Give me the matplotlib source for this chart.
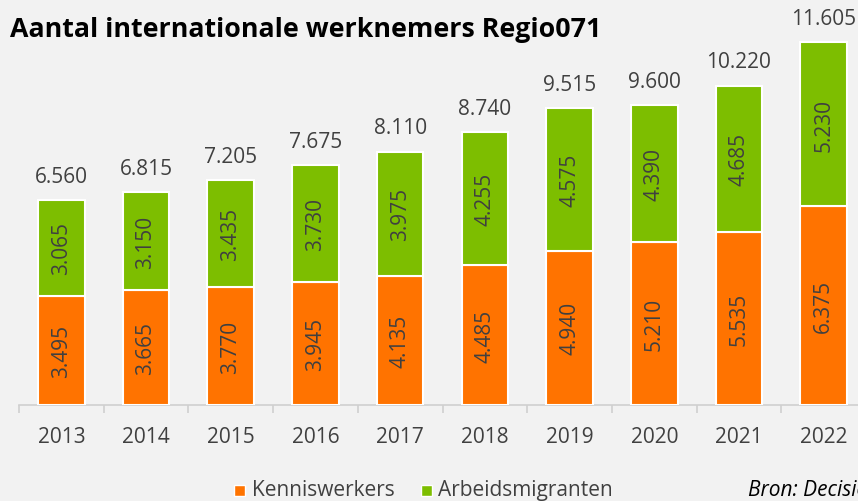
import matplotlib
matplotlib.use("Agg")
import matplotlib.pyplot as plt
from matplotlib.patches import Rectangle
import numpy as np

years = ["2013", "2014", "2015", "2016", "2017", "2018", "2019", "2020", "2021", "2022"]
kennis = [3495, 3665, 3770, 3945, 4135, 4485, 4940, 5210, 5535, 6375]
arbeid = [3065, 3150, 3435, 3730, 3975, 4255, 4575, 4390, 4685, 5230]
totals = [6560, 6815, 7205, 7675, 8110, 8740, 9515, 9600, 10220, 11605]

def fmt(v):
    return f"{v:,}".replace(",", ".")

BG = "#F2F2F2"
ORANGE = "#FF7300"
GREEN = "#7DBE00"
TXT = "#404040"
FONT = ["Open Sans", "DejaVu Sans"]
plt.rcParams['font.family'] = FONT
FS = 15

W, H = 858, 502
fig = plt.figure(figsize=(W/100, H/100), dpi=100, facecolor=BG)
x0 = 19 / W
ax_bottom = (H - 406) / H
ax = fig.add_axes([x0, ax_bottom, 847 / W, 406 / H], facecolor=BG)
ax.set_xlim(-0.5, 9.5)
ax.set_ylim(0, 406 / 0.03125)

x = np.arange(len(years))
bw = 0.55
ax.bar(x, kennis, bw, color=ORANGE, edgecolor="white", linewidth=1.5, zorder=3)
ax.bar(x, arbeid, bw, bottom=kennis, color=GREEN, edgecolor="white", linewidth=1.5, zorder=3)

for i in range(len(years)):
    ax.text(x[i], kennis[i] / 2, fmt(kennis[i]), rotation=90, ha="center", va="center",
            fontsize=FS, color=TXT, zorder=4)
    ax.text(x[i], kennis[i] + arbeid[i] / 2, fmt(arbeid[i]), rotation=90, ha="center", va="center",
            fontsize=FS, color=TXT, zorder=4)
    ax.text(x[i], totals[i] + 420, fmt(totals[i]), ha="center", va="bottom",
            fontsize=FS, color=TXT, zorder=4)

for s in ["top", "right", "left"]:
    ax.spines[s].set_visible(False)
ax.spines["bottom"].set_color("#D0D0D0")
ax.spines["bottom"].set_linewidth(1.2)
ax.set_yticks([])
ax.set_xticks(np.arange(-0.5, 10.0, 1.0), minor=False)
ax.set_xticklabels([])
ax.tick_params(axis="x", length=6, color="#D0D0D0", width=1.2)
for i, yr in enumerate(years):
    ax.text(x[i], -32 / 0.03125, yr, ha="center", va="center", fontsize=FS, color=TXT,
            clip_on=False)

fig.text(10 / W, 1 - 30 / H, "Aantal internationale werknemers Regio071", fontsize=19.3,
         fontweight="bold", color="black", ha="left", va="center")

# legend
ly = 1 - 491 / H
sq = 11
fig.patches.append(Rectangle((234 / W, ly - sq / 2 / H), sq / W, sq / H, facecolor=ORANGE,
                             edgecolor="white", linewidth=1,
                             transform=fig.transFigure, figure=fig))
fig.text(252 / W, ly, "Kenniswerkers", fontsize=FS, color=TXT, ha="left", va="center")
fig.patches.append(Rectangle((421 / W, ly - sq / 2 / H), sq / W, sq / H, facecolor=GREEN,
                             edgecolor="white", linewidth=1,
                             transform=fig.transFigure, figure=fig))
fig.text(438 / W, ly, "Arbeidsmigranten", fontsize=FS, color=TXT, ha="left", va="center")
fig.text(748 / W, ly, "Bron: Decisio", fontsize=FS, style="italic", color="black",
         ha="left", va="center")

fig.savefig("out.png", dpi=100, facecolor=BG)
